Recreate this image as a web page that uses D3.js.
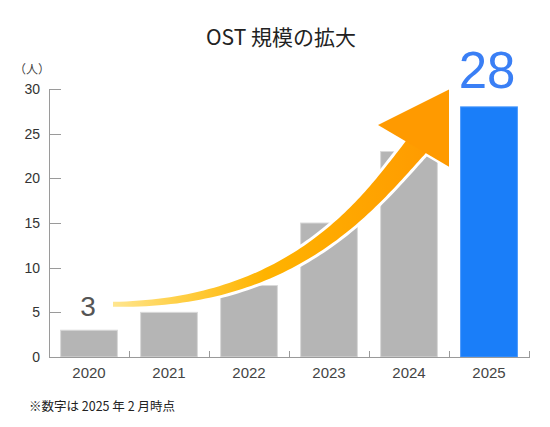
<!DOCTYPE html>
<html><head><meta charset="utf-8">
<script src="https://cdn.jsdelivr.net/npm/d3@7"></script>
<style>html,body{margin:0;padding:0;background:#fff}</style>
</head><body>
<svg id="c" width="550" height="427"></svg>
<script>
const years = ["2020","2021","2022","2023","2024","2025"];
const members = [3, 5, 8, 15, 23, 28];
const yTicks = [0, 5, 10, 15, 20, 25, 30];
const titleText = "OST 規模の拡大";
const unitText = "（人）";
const noteText = "※数字は 2025 年 2 月時点";

(function () {
const mLeft = 49, mRight = 529, mTop = 89, mBottom = 357;
const svg = d3.select("#c");
const jp = "'Noto Sans CJK JP','Noto Sans',sans-serif";
const num = "'Liberation Sans',Arial,sans-serif";

const x = d3.scaleBand().domain(years).range([mLeft, mRight]).paddingInner(0.29).paddingOuter(0.145);
const y = d3.scaleLinear().domain([0, 30]).range([mBottom, mTop]);
const step = x.step();

// title
svg.append("text").attr("x", 281).attr("y", 45).attr("text-anchor", "middle")
  .attr("font-family", jp).attr("font-size", 21).attr("fill", "#222").text(titleText);
svg.append("text").attr("x", 32).attr("y", 74).attr("text-anchor", "middle")
  .attr("font-family", jp).attr("font-size", 12).attr("fill", "#444").text(unitText);

// bars
svg.append("g").selectAll("rect").data(years).join("rect")
  .attr("x", d => x(d)).attr("width", x.bandwidth())
  .attr("y", (d, i) => y(members[i])).attr("height", (d, i) => y(0) - y(members[i]))
  .attr("fill", (d, i) => i === years.length - 1 ? "#1a7ef9" : "#b5b5b5")
  .attr("stroke", (d, i) => i === years.length - 1 ? "#4a98fb" : "#d9d9d9").attr("stroke-width", 1);

// axes
const ax = svg.append("g").attr("stroke", "#9a9a9a").attr("stroke-width", 1).attr("fill", "none");
ax.append("line").attr("x1", mLeft + 0.5).attr("x2", mLeft + 0.5).attr("y1", y(30)).attr("y2", y(0));
ax.append("line").attr("x1", mLeft).attr("x2", mRight + 1).attr("y1", y(0) + 0.5).attr("y2", y(0) + 0.5);
ax.selectAll(".yt").data(yTicks).join("line")
  .attr("x1", mLeft).attr("x2", mLeft + 12)
  .attr("y1", d => Math.round(y(d)) + 0.5).attr("y2", d => Math.round(y(d)) + 0.5);
ax.selectAll(".xt").data(years).join("line")
  .attr("x1", (d, i) => mLeft + (i + 1) * step + 0.5).attr("x2", (d, i) => mLeft + (i + 1) * step + 0.5)
  .attr("y1", y(0)).attr("y2", y(0) - 6);

svg.append("g").selectAll("text").data(yTicks).join("text")
  .attr("x", 40).attr("y", d => y(d) + 5).attr("text-anchor", "end")
  .attr("font-family", num).attr("font-size", 14).attr("fill", "#333").text(d => d);
svg.append("g").selectAll("text").data(years).join("text")
  .attr("x", d => x(d) + x.bandwidth() / 2).attr("y", 378).attr("text-anchor", "middle")
  .attr("font-family", num).attr("font-size", 15).attr("fill", "#444").text(d => d);

// arrow (decoration anchored to scales)
const px = (yr, f) => x(yr) - step * 0.145 + f * step;
const P0 = [px("2020", 0.8), y(5.9)];
const P1 = [px("2022", 1.075), y(5.9)];
const P2 = [px("2024", 0.0), y(17.3)];
const P3 = [px("2024", 0.575), y(23.4)];
const headA = [px("2024", 0.1125), y(25.97)];
const headTip = [px("2025", 0), y(29.95)];
const headB = [px("2025", 0), y(21.3)];

function bez(t) {
  const a = (1 - t) ** 3, b = 3 * (1 - t) ** 2 * t, c = 3 * (1 - t) * t * t, d = t ** 3;
  return [a * P0[0] + b * P1[0] + c * P2[0] + d * P3[0], a * P0[1] + b * P1[1] + c * P2[1] + d * P3[1]];
}
function dbez(t) {
  const a = 3 * (1 - t) ** 2, b = 6 * (1 - t) * t, c = 3 * t * t;
  return [a * (P1[0] - P0[0]) + b * (P2[0] - P1[0]) + c * (P3[0] - P2[0]),
          a * (P1[1] - P0[1]) + b * (P2[1] - P1[1]) + c * (P3[1] - P2[1])];
}
const N = 80, upper = [], lower = [];
for (let i = 0; i <= N; i++) {
  const t = i / N, p = bez(t), d = dbez(t), L = Math.hypot(d[0], d[1]);
  const nx = -d[1] / L, ny = d[0] / L, w = (5 + 18 * t) / 2;
  upper.push([p[0] + nx * w, p[1] + ny * w]);
  lower.push([p[0] - nx * w, p[1] - ny * w]);
}
const dEnd = dbez(1), Le = Math.hypot(dEnd[0], dEnd[1]);
const ext = 8;
upper.push([upper[N][0] + dEnd[0] / Le * ext, upper[N][1] + dEnd[1] / Le * ext]);
lower.push([lower[N][0] + dEnd[0] / Le * ext, lower[N][1] + dEnd[1] / Le * ext]);
const shaftPts = upper.concat(lower.slice().reverse());
const line = d3.line().curve(d3.curveLinearClosed);

const defs = svg.append("defs");
const g = defs.append("linearGradient").attr("id", "ag").attr("gradientUnits", "userSpaceOnUse")
  .attr("x1", P0[0]).attr("y1", 0).attr("x2", headTip[0]).attr("y2", 0);
[[0, "#ffe690"], [0.2, "#ffcf45"], [0.45, "#ffb300"], [0.8, "#ffa200"], [1, "#ff9800"]]
  .forEach(([o, c]) => g.append("stop").attr("offset", o).attr("stop-color", c));

const arrow = svg.append("g");
const headPts = [headA, headTip, headB];
arrow.append("path").attr("d", line(shaftPts)).attr("fill", "none").attr("stroke", "#fff").attr("stroke-width", 6).attr("stroke-linejoin", "round");
arrow.append("path").attr("d", line(headPts)).attr("fill", "none").attr("stroke", "#fff").attr("stroke-width", 5).attr("stroke-linejoin", "miter");
arrow.append("path").attr("d", line(shaftPts)).attr("fill", "url(#ag)");
arrow.append("path").attr("d", line(headPts)).attr("fill", "#ff9a00");

// value labels
svg.append("text").attr("x", x("2020") + x.bandwidth() / 2 - 1).attr("y", y(members[0]) - 14)
  .attr("text-anchor", "middle").attr("font-family", num).attr("font-size", 28).attr("fill", "#555")
  .text(members[0]);
svg.append("text").attr("x", x("2025") + x.bandwidth() / 2 - 2).attr("y", y(members[5]) - 19)
  .attr("text-anchor", "middle").attr("font-family", num).attr("font-size", 51).attr("fill", "#3a7ff5")
  .text(members[5]);

svg.append("text").attr("x", 29).attr("y", 411).attr("font-family", jp).attr("font-size", 12.5)
  .attr("fill", "#222").text(noteText);
})();
</script>
</body></html>
